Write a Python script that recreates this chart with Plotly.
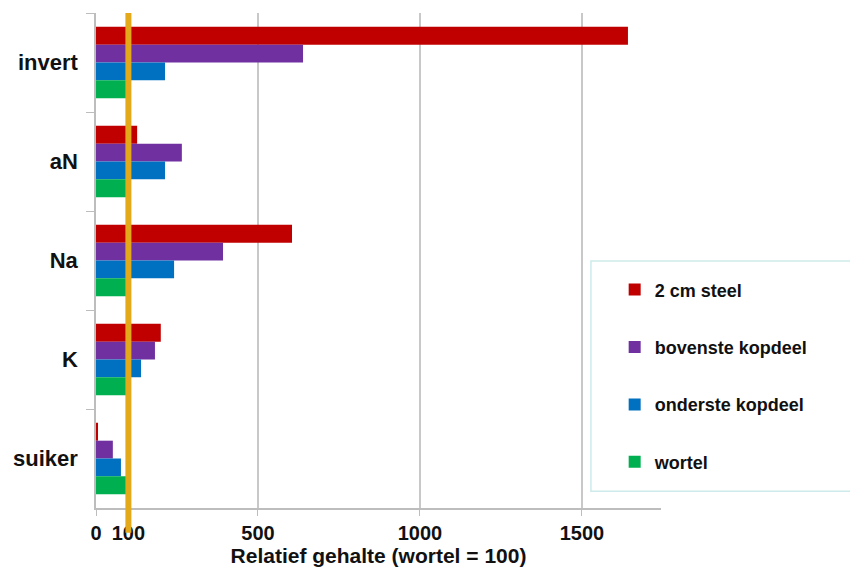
import plotly.graph_objects as go

categories = ["invert", "aN", "Na", "K", "suiker"]
series_names = ["2 cm steel", "bovenste kopdeel", "onderste kopdeel", "wortel"]
steel = [1642, 127, 605, 200, 5]
bovenste = [639, 265, 392, 182, 52]
onderste = [213, 213, 241, 139, 77]
wortel = [100, 100, 100, 100, 100]
colors = ["#C00000", "#7030A0", "#0070C0", "#00B050"]
tick_vals = [0, 100, 500, 1000, 1500]
tick_text = ["0", "100", "500", "1000", "1500"]
reference_value = 100

values = [steel, bovenste, onderste, wortel]

fig = go.Figure()
for i in range(4):
    fig.add_trace(go.Bar(
        y=categories, x=values[i], name=series_names[i], orientation="h",
        marker=dict(color=colors[i], line=dict(width=0)),
        legendgroup=series_names[i],
    ))

fig.add_shape(type="line", xref="x", yref="paper",
              x0=reference_value, x1=reference_value, y0=-0.05, y1=1.0,
              line=dict(color="#E3A91B", width=6), layer="above")

# legend frame
fig.add_shape(type="rect", xref="paper", yref="paper",
              x0=0.876, x1=1.36, y0=0.034, y1=0.499,
              line=dict(color="#CDEBEA", width=1.5), fillcolor="rgba(255,255,255,0)",
              layer="below")

fig.update_layout(
    width=850, height=577,
    margin=dict(l=96, r=189, t=13, b=69, autoexpand=False),
    paper_bgcolor="white", plot_bgcolor="white",
    barmode="group", bargap=0.28, bargroupgap=0,
    font=dict(family="Liberation Sans, Arial", color="#111111"),
    showlegend=True,
    legend=dict(
        x=0.918, y=0.478, xanchor="left", yanchor="top",
        traceorder="grouped", tracegroupgap=31,
        borderwidth=0, bgcolor="rgba(255,255,255,0)",
        font=dict(family="Liberation Sans, Arial", size=18, color="#111111", weight="bold"),
        itemwidth=30,
    ),
    xaxis=dict(
        range=[0, 1744], tickvals=tick_vals, ticktext=tick_text,
        showgrid=True, gridcolor="#C8C8C8", gridwidth=1.5,
        showline=True, linecolor="#BDBDBD", linewidth=1.5,
        ticks="outside", ticklen=6, tickcolor="#BDBDBD",
        zeroline=False, automargin=False,
        tickfont=dict(family="Liberation Sans, Arial", size=20, color="#111111", weight="bold"),
        title=dict(text="Relatief gehalte (wortel = 100)",
                   font=dict(family="Liberation Sans, Arial", size=21, color="#111111", weight="bold"),
                   standoff=6),
    ),
    yaxis=dict(
        categoryorder="array", categoryarray=categories, autorange="reversed",
        showline=True, linecolor="#BDBDBD", linewidth=1.5,
        ticks="outside", tickson="boundaries", ticklen=8, tickcolor="#BDBDBD",
        showgrid=False, automargin=False,
        tickfont=dict(family="Liberation Sans, Arial", size=22, color="#111111", weight="bold"),
        ticklabelstandoff=12,
    ),
)

fig.write_html("out.html", config={"displayModeBar": False},
               post_script="document.body.style.margin='0px';")
